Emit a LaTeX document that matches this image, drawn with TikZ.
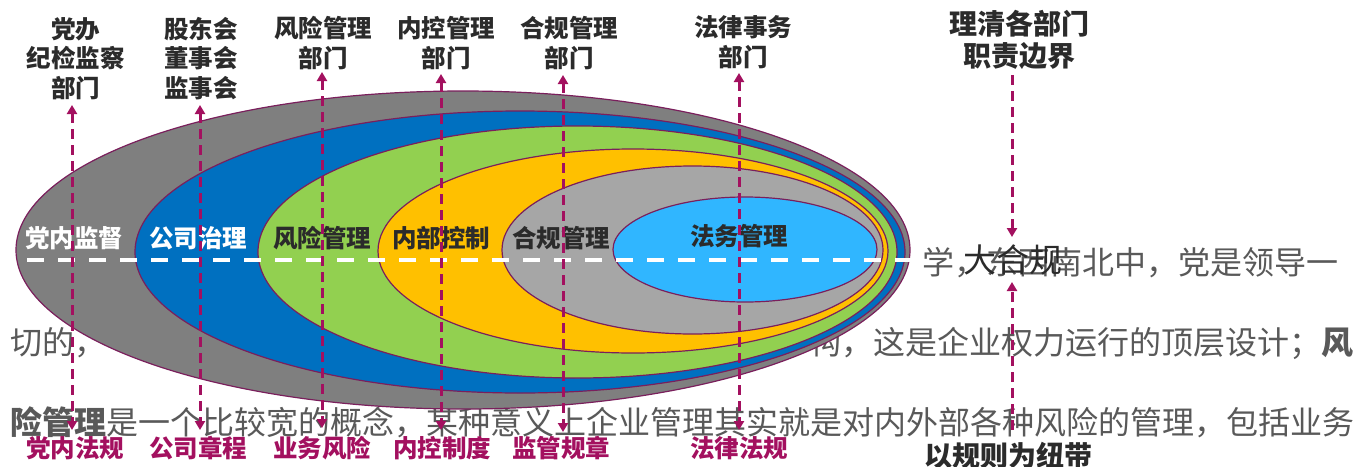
\documentclass[tikz,border=0pt]{standalone}
\usepackage{fontspec}
\setmainfont{Noto Sans CJK SC}
\usetikzlibrary{arrows.meta}
\definecolor{gOuter}{HTML}{7F7F7F}
\definecolor{gBlue}{HTML}{0070C0}
\definecolor{gGreen}{HTML}{92D050}
\definecolor{gOrange}{HTML}{FFC000}
\definecolor{gLight}{HTML}{A6A6A6}
\definecolor{gSky}{HTML}{30B6FF}
\definecolor{edgec}{HTML}{7A1F5C}
\definecolor{berry}{HTML}{A3105F}
\definecolor{labdark}{HTML}{2B2B2B}
\definecolor{bggray}{HTML}{595959}
\tikzset{
  ell/.style={draw=edgec, line width=1.2pt},
  toplab/.style={font=\bfseries\fontsize{24.5}{29.5}\selectfont, text=labdark, align=center, inner sep=0pt},
  biglab/.style={font=\bfseries\fontsize{28}{32}\selectfont, text=labdark, align=center, inner sep=0pt},
  inlab/.style={font=\bfseries\fontsize{24.5}{29.5}\selectfont, inner sep=0pt},
  botlab/.style={font=\bfseries\fontsize{24.5}{29.5}\selectfont, text=berry, inner sep=0pt},
  bgtext/.style={font=\fontsize{32}{38}\selectfont, text=bggray, inner sep=0pt},
  marrow/.style={draw=berry, line width=3pt, dash pattern=on 10pt off 6pt},
  wdash/.style={draw=white, line width=4.5pt, dash pattern=on 17pt off 14pt},
  >={Triangle[width=10pt,length=9pt]}
}
\begin{document}
\begin{tikzpicture}[x=1pt,y=-1pt]
\useasboundingbox (0,0) rectangle (1368,466);
\clip (0,0) rectangle (1368,466);
\fill[white] (0,0) rectangle (1368,466);

% background paragraph text (partly hidden)
\node[bgtext, anchor=base west] (bg1) at (922,274) {学，东西南北中，党是领导一};
\node[bgtext, anchor=base west] (bg2a) at (10,354) {切的，};
\node[bgtext, anchor=base east] (bg2b) at (1354,354) {构，这是企业权力运行的顶层设计；\textbf{风}};
\node[bgtext, anchor=base west] (bg3) at (10,434) {\textbf{险管理}是一个比较宽的概念，某种意义上企业管理其实就是对内外部各种风险的管理，包括业务};

% nested ellipses
\path[ell, fill=gOuter]  (463,250) ellipse [x radius=447pt, y radius=159pt];
\path[ell, fill=gBlue]   (520,252) ellipse [x radius=385pt, y radius=141pt];
\path[ell, fill=gGreen]  (577.5,252) ellipse [x radius=319.5pt, y radius=126pt];
\path[ell, fill=gOrange] (633,251) ellipse [x radius=255pt, y radius=102pt];
\path[ell, fill=gLight]  (692.5,250) ellipse [x radius=190.5pt, y radius=84pt];
\path[ell, fill=gSky]    (745,249.5) ellipse [x radius=132pt, y radius=52.5pt];

% ellipse labels
\node[inlab, text=white]   (e1) at (74,238)  {党内监督};
\node[inlab, text=white]   (e2) at (198,238) {公司治理};
\node[inlab, text=labdark] (e3) at (322,238) {风险管理};
\node[inlab, text=labdark] (e4) at (441,238) {内部控制};
\node[inlab, text=labdark] (e5) at (561,238) {合规管理};
\node[inlab, text=labdark] (e6) at (739,236) {法务管理};

% white dashed axis
\coordinate (wl) at (27,260);
\coordinate (wr) at (913,260);
\draw[wdash] (wl) -- (wr);

% top labels
\node[toplab] (t1) at (76,58.5)  {党办\\纪检监察\\部门};
\node[toplab] (t2) at (201,58.5) {股东会\\董事会\\监事会};
\node[toplab] (t3) at (323,43)   {风险管理\\部门};
\node[toplab] (t4) at (446,43)   {内控管理\\部门};
\node[toplab] (t5) at (569,43)   {合规管理\\部门};
\node[toplab] (t6) at (743,42)   {法律事务\\部门};
\node[biglab] (t7) at (1019,40)  {理清各部门\\职责边界};

% bottom labels
\node[botlab] (b1) at (75,448)  {党内法规};
\node[botlab] (b2) at (198,448) {公司章程};
\node[botlab] (b3) at (322,448) {业务风险};
\node[botlab] (b4) at (442,448) {内控制度};
\node[botlab] (b5) at (561,448) {监管规章};
\node[botlab] (b6) at (739,448) {法律法规};
\node[biglab] (b7) at (1008,456) {以规则为纽带};

% centre word
\node[font=\fontsize{33}{38}\selectfont, text=labdark, inner sep=0pt] (dhg) at (1013,260) {大合规};

% arrow end points
\coordinate (u1) at (72,105);   \coordinate (d1) at (72,430);
\coordinate (u2) at (200,105);  \coordinate (d2) at (200,430);
\coordinate (u3) at (322,72);   \coordinate (d3) at (322,428);
\coordinate (u4) at (441,74);   \coordinate (d4) at (441,430);
\coordinate (u5) at (563,75);   \coordinate (d5) at (563,432);
\coordinate (u6) at (739,73);   \coordinate (d6) at (739,430);
\coordinate (u7) at (1012,75);  \coordinate (n7) at (1012,237);
\coordinate (d7) at (1012,430); \coordinate (s7) at (1012,282);

\draw[marrow, <->] (u1) -- (d1);
\draw[marrow, <->] (u2) -- (d2);
\draw[marrow, <->] (u3) -- (d3);
\draw[marrow, <->] (u4) -- (d4);
\draw[marrow, <->] (u5) -- (d5);
\draw[marrow, <->] (u6) -- (d6);
\draw[marrow, ->] (u7) -- (n7);
\draw[marrow, ->] (d7) -- (s7);
\end{tikzpicture}
\end{document}
